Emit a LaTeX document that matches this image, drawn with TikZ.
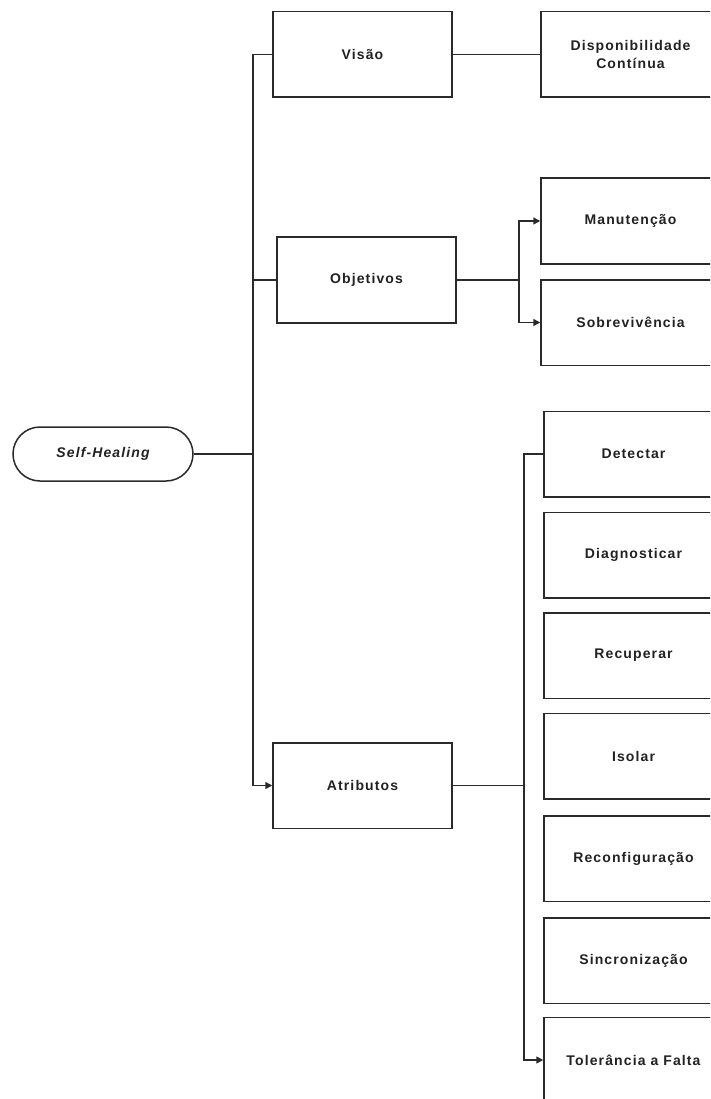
\documentclass[tikz,border=0pt]{standalone}
\usepackage{fontspec}
\setmainfont{Liberation Sans}[LetterSpace=8]
\usetikzlibrary{arrows.meta}
\definecolor{ln}{HTML}{2A2A2A}
\definecolor{tx}{HTML}{222222}
\begin{document}
\begin{tikzpicture}[x=1pt,y=-1pt,
  every node/.style={font=\fontsize{14}{18}\selectfont\bfseries, text=tx},
  box/.style={draw=ln, line width=1.5pt, minimum width=179pt, minimum height=85.5pt, inner sep=0pt, align=center},
  pill/.style={draw=ln, line width=1.5pt, minimum width=180pt, minimum height=54pt, rounded corners=27pt, inner sep=0pt},
  conn/.style={draw=ln, line width=1.5pt},
  arr/.style={conn, -{Triangle[length=7pt,width=7pt]}}]
\useasboundingbox (0,0) rectangle (710,1099);
\clip (0,0) rectangle (710,1099);
\fill[white] (0,0) rectangle (710,1099);
% nodes
\node[pill] (sh) at (103,454) {\itshape Self-Healing};
\node[box] (visao) at (362.5,54.5) {Visão};
\node[box] (disp) at (630.5,54.5) {Disponibilidade\\Contínua};
\node[box] (obj) at (366.5,280) {Objetivos};
\node[box] (man) at (630.5,221) {Manutenção};
\node[box] (sob) at (630.5,322.5) {Sobrevivência};
\node[box] (atr) at (362.5,785.5) {Atributos};
\node[box] (det) at (633.5,454) {Detectar};
\node[box] (dia) at (633.5,555) {Diagnosticar};
\node[box] (rec) at (633.5,655.5) {Recuperar};
\node[box] (iso) at (633.5,756) {Isolar};
\node[box] (rcf) at (633.5,858.5) {Reconfiguração};
\node[box] (sin) at (633.5,960.5) {Sincronização};
\node[box] (tol) at (633.5,1060) {Tolerância a Falta};
% junction coordinates
\coordinate (tr) at (253,0);
\coordinate (oj) at (519,0);
\coordinate (aj) at (524,0);
% connectors
\draw[conn] (sh.east) -- (sh.east -| tr);
\draw[arr] (visao.west) -- (visao.west -| tr) |- (atr.west);
\draw[conn] (obj.west) -- (obj.west -| tr);
\draw[conn] (visao.east) -- (disp.west);
\draw[conn] (obj.east) -- (obj.east -| oj);
\draw[arr] (obj.east -| oj) |- (man.west);
\draw[arr] (obj.east -| oj) |- (sob.west);
\draw[conn] (atr.east) -- (atr.east -| aj);
\draw[arr] (det.west) -- (det.west -| aj) |- (tol.west);
\end{tikzpicture}
\end{document}
